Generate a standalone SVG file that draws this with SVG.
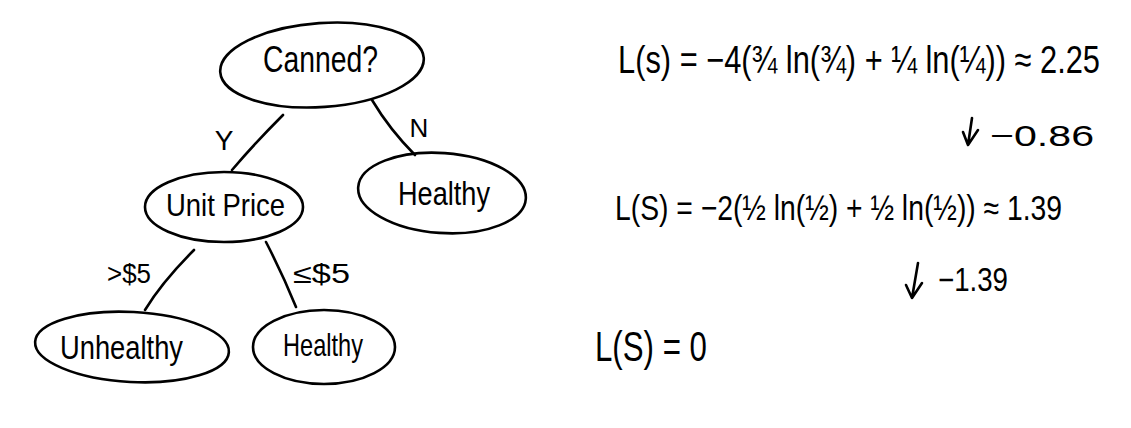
<svg xmlns="http://www.w3.org/2000/svg" width="1131" height="428" viewBox="0 0 1131 428">
<style>
.node ellipse{fill:none;stroke:#000;stroke-width:2.6}
.lbl{font-family:"Liberation Sans","DejaVu Sans",sans-serif;fill:#000}
.edges path,.arrows path{stroke:#000;stroke-width:2.6;fill:none;stroke-linecap:round;stroke-linejoin:round}
</style>
<rect width="1131" height="428" fill="#fff"/>
<g id="edges" class="edges">
<path d="M283 115 Q255 143 232 170"/>
<path d="M372 100 Q390 130 415 155"/>
<path d="M194 250 Q162 282 145 310"/>
<path d="M266 242 Q283 275 296 307"/>
<text class="lbl" x="224" y="150" font-size="28" text-anchor="middle">Y</text>
<text class="lbl" x="419" y="137" font-size="26" text-anchor="middle">N</text>
<text class="lbl" x="107" y="283" font-size="27" textLength="44" lengthAdjust="spacingAndGlyphs">&gt;$5</text>
<text class="lbl" x="293" y="283" font-size="27" textLength="57" lengthAdjust="spacingAndGlyphs">≤$5</text>
</g>
<g id="n-canned" class="node">
<ellipse cx="322" cy="65" rx="102" ry="42" transform="rotate(-4 322 65)"/>
<text class="lbl" x="263" y="72" font-size="36" textLength="115" lengthAdjust="spacingAndGlyphs">Canned?</text>
</g>
<g id="n-unitprice" class="node">
<ellipse cx="224" cy="207" rx="79" ry="35"/>
<text class="lbl" x="166" y="216" font-size="32" textLength="119" lengthAdjust="spacingAndGlyphs">Unit Price</text>
</g>
<g id="n-healthy1" class="node">
<ellipse cx="442" cy="193" rx="84" ry="40" transform="rotate(4 442 193)"/>
<text class="lbl" x="398" y="205" font-size="33" textLength="92" lengthAdjust="spacingAndGlyphs">Healthy</text>
</g>
<g id="n-unhealthy" class="node">
<ellipse cx="132" cy="347" rx="97" ry="35" transform="rotate(3 132 347)"/>
<text class="lbl" x="60" y="359" font-size="33" textLength="123" lengthAdjust="spacingAndGlyphs">Unhealthy</text>
</g>
<g id="n-healthy2" class="node">
<ellipse cx="324" cy="347" rx="71" ry="37"/>
<text class="lbl" x="283" y="356" font-size="32" textLength="80" lengthAdjust="spacingAndGlyphs">Healthy</text>
</g>
<g id="equations">
<text class="lbl" transform="translate(618 73) scale(1 1.25)" x="0" y="0" font-size="31" textLength="482" lengthAdjust="spacingAndGlyphs">L(s) = −4(¾ ln(¾) + ¼ ln(¼)) ≈ 2.25</text>
<text class="lbl" x="990" y="146" font-size="30" textLength="104" lengthAdjust="spacingAndGlyphs">−0.86</text>
<text class="lbl" transform="translate(615 220) scale(1 1.2)" x="0" y="0" font-size="29" textLength="447" lengthAdjust="spacingAndGlyphs">L(S) = −2(½ ln(½) + ½ ln(½)) ≈ 1.39</text>
<text class="lbl" x="938" y="291" font-size="33" textLength="70" lengthAdjust="spacingAndGlyphs">−1.39</text>
<text class="lbl" transform="translate(595 361) scale(1 1.3)" x="0" y="0" font-size="32" textLength="112" lengthAdjust="spacingAndGlyphs">L(S) = 0</text>
</g>
<g id="arrows" class="arrows">
<path d="M972 118 L968 145 M963 132 L968 145 L978 130"/>
<path d="M918 263 L912 298 M906 285 L912 298 L922 283"/>
</g>
</svg>
